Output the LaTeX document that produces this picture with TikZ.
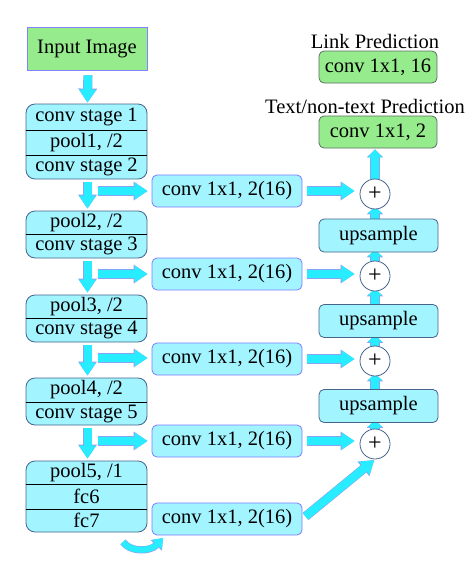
\documentclass[tikz,border=0pt]{standalone}
\usepackage{fontspec}
\setmainfont{Liberation Serif}
\usetikzlibrary{arrows.meta,backgrounds}
\definecolor{boxfill}{RGB}{162,244,255}
\definecolor{arrowfill}{RGB}{40,236,255}
\definecolor{arrowedge}{RGB}{135,165,240}
\definecolor{greenfill}{RGB}{150,236,140}
\definecolor{greenedge}{RGB}{90,110,100}
\definecolor{blockedge}{RGB}{70,100,140}
\definecolor{convedge}{RGB}{125,125,255}
\definecolor{inedge}{RGB}{130,130,255}
\begin{document}
\begin{tikzpicture}[x=1pt,y=-1pt,
  every node/.style={font=\fontsize{20.5}{24}\selectfont},
  blk/.style={draw=blockedge, fill=boxfill, rounded corners=9pt, minimum width=121pt, inner sep=0pt, line width=0.8pt},
  row/.style={minimum width=121pt, inner sep=0pt},
  divider/.style={draw=black, line width=0.7pt},
  conv/.style={draw=convedge, fill=boxfill, rounded corners=5pt, minimum width=150pt, minimum height=32pt, inner sep=0pt, line width=0.8pt},
  ups/.style={draw=blockedge, fill=boxfill, rounded corners=5pt, minimum width=119pt, minimum height=33pt, inner sep=0pt, line width=0.8pt},
  grn/.style={draw=greenedge, fill=greenfill, rounded corners=5pt, minimum width=118pt, minimum height=32pt, inner sep=0pt, line width=0.8pt},
  plusnode/.style={circle, draw=blockedge, fill=white, minimum size=30pt, inner sep=0pt, line width=0.8pt, font=\fontsize{24}{24}\selectfont},
  bigarrow/.style={draw=arrowfill, line width=8pt, -{Triangle[width=16pt,length=13pt]},
    preaction={draw=arrowedge, line width=9.2pt, -{Triangle[width=18pt,length=14pt]}}},
  smallarrow/.style={draw=arrowfill, line width=8pt, -{Triangle[width=14pt,length=7pt]},
    preaction={draw=arrowedge, line width=9.2pt, -{Triangle[width=16pt,length=8pt]}}},
  curvearrow/.style={draw=arrowfill, line width=6pt, -{Triangle[width=13pt,length=9pt]},
    preaction={draw=arrowedge, line width=7.2pt, -{Triangle[width=15pt,length=10pt]}}},
]
\useasboundingbox (0,0) rectangle (473,570);

% input
\node[draw=inedge, fill=greenfill, minimum width=120pt, minimum height=43pt, inner sep=0pt, line width=0.8pt] (in) at (87,48.5) {Input Image};

% block 1
\node[blk, minimum height=75pt] (b1) at (86.5,141.5) {};
\node[row, minimum height=26pt] (b1a) at (86.5,117) {conv stage 1};
\node[row, minimum height=25pt] (b1b) at (86.5,142.5) {pool1, /2};
\node[row, minimum height=24pt] (b1c) at (86.5,167) {conv stage 2};
\draw[divider] (b1a.south west) -- (b1a.south east);
\draw[divider] (b1b.south west) -- (b1b.south east);

% block 2
\node[blk, minimum height=47pt] (b2) at (86.5,234.5) {};
\node[row, minimum height=23pt] (b2a) at (86.5,222.5) {pool2, /2};
\node[row, minimum height=24pt] (b2b) at (86.5,246) {conv stage 3};
\draw[divider] (b2a.south west) -- (b2a.south east);

% block 3
\node[blk, minimum height=47pt] (b3) at (86.5,318.5) {};
\node[row, minimum height=23pt] (b3a) at (86.5,306.5) {pool3, /2};
\node[row, minimum height=24pt] (b3b) at (86.5,330) {conv stage 4};
\draw[divider] (b3a.south west) -- (b3a.south east);

% block 4
\node[blk, minimum height=47pt] (b4) at (86.5,401.5) {};
\node[row, minimum height=24pt] (b4a) at (86.5,390) {pool4, /2};
\node[row, minimum height=23pt] (b4b) at (86.5,413.5) {conv stage 5};
\draw[divider] (b4a.south west) -- (b4a.south east);

% block 5
\node[blk, minimum height=71pt] (b5) at (86.5,496.5) {};
\node[row, minimum height=23pt] (b5a) at (86.5,472.5) {pool5, /1};
\node[row, minimum height=25pt] (b5b) at (86.5,496.5) {fc6};
\node[row, minimum height=23pt] (b5c) at (86.5,520.5) {fc7};
\draw[divider] (b5a.south west) -- (b5a.south east);
\draw[divider] (b5b.south west) -- (b5b.south east);

% conv 1x1 boxes
\node[conv] (c1) at (227,191) {conv 1x1, 2(16)};
\node[conv] (c2) at (227,274) {conv 1x1, 2(16)};
\node[conv] (c3) at (227,359) {conv 1x1, 2(16)};
\node[conv] (c4) at (227,441) {conv 1x1, 2(16)};
\node[conv] (c5) at (227,519) {conv 1x1, 2(16)};

% right column
\node[plusnode] (p1) at (375,194) {+};
\node[plusnode] (p2) at (375,276) {+};
\node[plusnode] (p3) at (375,361) {+};
\node[plusnode] (p4) at (375,444) {+};
\node[ups] (u1) at (378.5,235.5) {upsample};
\node[ups] (u2) at (378.5,321) {upsample};
\node[ups] (u3) at (378.5,406) {upsample};
\node[grn] (g1) at (378,67) {conv 1x1, 16};
\node[grn] (g2) at (378,132) {conv 1x1, 2};
\node (lp) at (375,41) {Link Prediction};
\node (tp) at (365,106) {Text/non-text Prediction};

% free-end coordinates
\coordinate (h1) at (98,191);
\coordinate (h2) at (98,274);
\coordinate (h3) at (98,358);
\coordinate (h4) at (98,441);
\coordinate (cu1) at (123,542);
\coordinate (cu2) at (163,538);

\begin{scope}[on background layer]
% down arrows
\draw[bigarrow, shorten <=5pt, shorten >=1pt] ([xshift=1pt]in.south) -- ([xshift=1pt]b1.north);
\draw[bigarrow, shorten <=3pt, shorten >=2pt] ([xshift=1pt]b1.south) -- ([xshift=1pt]b2.north);
\draw[bigarrow, shorten <=3pt, shorten >=2pt] ([xshift=1pt]b2.south) -- ([xshift=1pt]b3.north);
\draw[bigarrow, shorten <=3pt, shorten >=2pt] ([xshift=1pt]b3.south) -- ([xshift=1pt]b4.north);
\draw[bigarrow, shorten <=3pt, shorten >=2pt] ([xshift=1pt]b4.south) -- ([xshift=1pt]b5.north);
% side arrows to conv boxes
\draw[bigarrow, shorten >=4pt] (h1) -- (c1.west);
\draw[bigarrow, shorten >=4pt] (h2) -- (c2.west);
\draw[bigarrow, shorten >=4pt] (h3) -- (h3 -| c3.west);
\draw[bigarrow, shorten >=4pt] (h4) -- (c4.west);
% conv to plus
\draw[bigarrow, shorten <=5pt, shorten >=5pt] (c1.east) -- (c1.east -| p1.west);
\draw[bigarrow, shorten <=5pt, shorten >=5pt] (c2.east) -- (c2.east -| p2.west);
\draw[bigarrow, shorten <=5pt, shorten >=5pt] (c3.east) -- (c3.east -| p3.west);
\draw[bigarrow, shorten <=5pt, shorten >=5pt] (c4.east) -- (c4.east -| p4.west);
\draw[bigarrow, shorten <=4pt, shorten >=1pt] (c5.east) -- (p4.south);
% right column upward
\draw[smallarrow, shorten >=-3pt] (p4.north) -- (p4.north |- u3.south);
\draw[smallarrow, shorten >=-3pt] (u3.north -| p3.south) -- (p3.south);
\draw[smallarrow, shorten >=-3pt] (p3.north) -- (p3.north |- u2.south);
\draw[smallarrow, shorten >=-3pt] (u2.north -| p2.south) -- (p2.south);
\draw[smallarrow, shorten >=-3pt] (p2.north) -- (p2.north |- u1.south);
\draw[smallarrow, shorten >=-3pt] (u1.north -| p1.south) -- (p1.south);
\draw[smallarrow, -{Triangle[width=14pt,length=8pt]}, shorten >=1pt] (p1.north) -- (p1.north |- g2.south);
% curved arrow
\draw[curvearrow] (cu1) .. controls (130,552) and (150,552) .. (cu2);
\end{scope}
\end{tikzpicture}
\end{document}
